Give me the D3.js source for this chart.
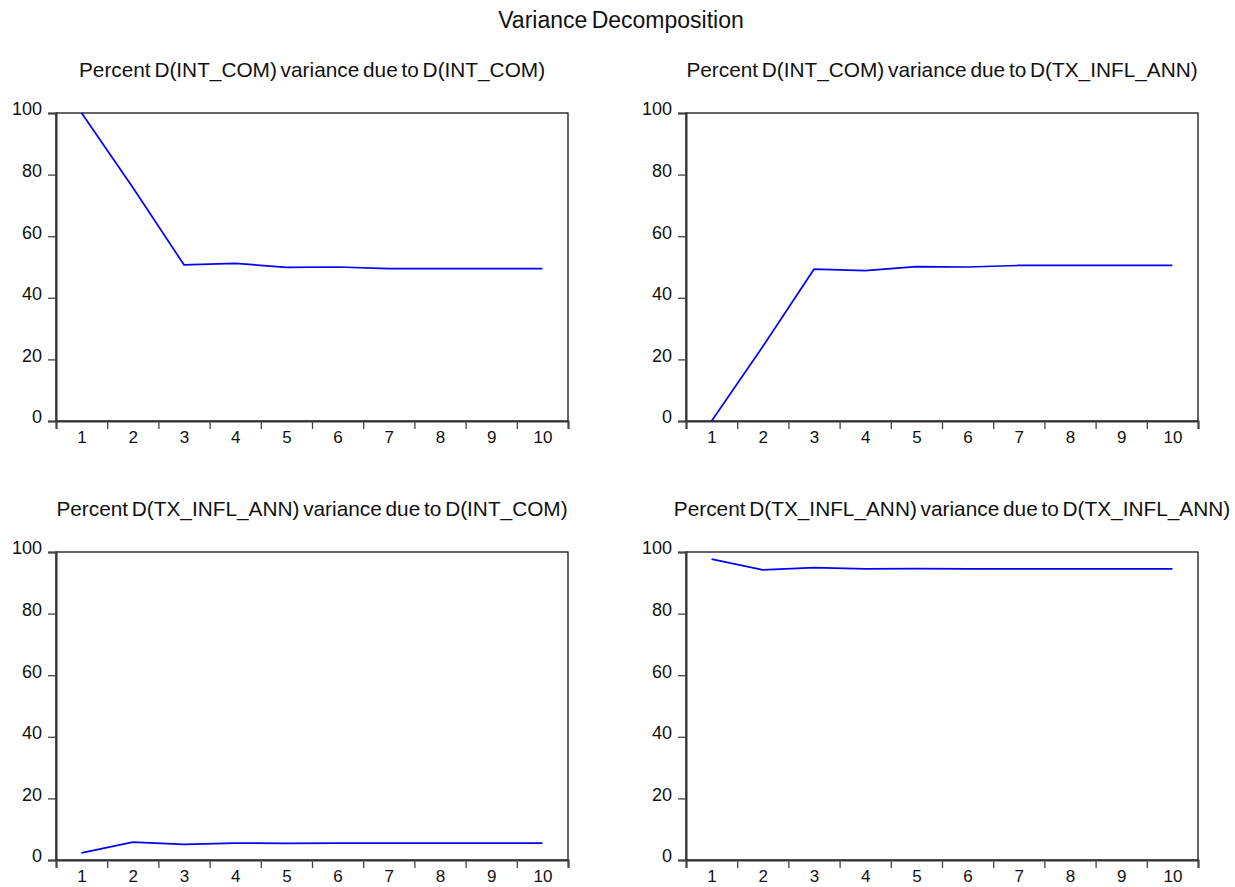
<!DOCTYPE html>
<html>
<head>
<meta charset="utf-8">
<script src="https://cdn.jsdelivr.net/npm/d3@7"></script>
<style>
  body { margin: 0; background: #fff; }
  svg text { font-family: "Liberation Sans", Arial, sans-serif; fill: #111; }
</style>
</head>
<body>
<svg id="chart" width="1235" height="887"></svg>
<script>
const periods = [1, 2, 3, 4, 5, 6, 7, 8, 9, 10];
const yTicks = [0, 20, 40, 60, 80, 100];
const intComByIntCom = [100, 75.8, 50.7, 51.2, 49.9, 50.0, 49.5, 49.5, 49.5, 49.5];
const intComByInfl   = [0, 24.2, 49.3, 48.8, 50.1, 50.0, 50.5, 50.5, 50.5, 50.5];
const inflByIntCom   = [2.3, 5.8, 5.1, 5.5, 5.4, 5.5, 5.5, 5.5, 5.5, 5.5];
const inflByInfl     = [97.7, 94.2, 94.9, 94.5, 94.6, 94.5, 94.5, 94.5, 94.5, 94.5];
const panelTitles = [
  'Percent D(INT_COM) variance due to D(INT_COM)',
  'Percent D(INT_COM) variance due to D(TX_INFL_ANN)',
  'Percent D(TX_INFL_ANN) variance due to D(INT_COM)',
  'Percent D(TX_INFL_ANN) variance due to D(TX_INFL_ANN)'
];
const mainTitle = 'Variance Decomposition';

const svg = d3.select('#chart');

// ---- Panel frames ----
const cols = [{x0: 56, x1: 568}, {x0: 686, x1: 1198}];
const rows = [{y0: 113, y1: 421}, {y0: 552, y1: 860}];
const panels = [
  {col: 0, row: 0, values: intComByIntCom, title: panelTitles[0]},
  {col: 1, row: 0, values: intComByInfl,   title: panelTitles[1]},
  {col: 0, row: 1, values: inflByIntCom,   title: panelTitles[2]},
  {col: 1, row: 1, values: inflByInfl,     title: panelTitles[3]}
];

svg.append('text')
  .attr('x', 621).attr('y', 28)
  .attr('text-anchor', 'middle')
  .style('font-size', '23px')
  .style('word-spacing', '-2px')
  .text(mainTitle);

panels.forEach(p => {
  const c = cols[p.col], r = rows[p.row];
  const x = d3.scaleLinear().domain([0.5, 10.5]).range([c.x0, c.x1]);
  const y = d3.scaleLinear().domain([0, 100]).range([r.y1, r.y0]);
  const g = svg.append('g');

  // subtitle
  g.append('text')
    .attr('x', (c.x0 + c.x1) / 2 + (p.col === 1 && p.row === 1 ? 10 : 0))
    .attr('y', r.y0 - 36)
    .attr('text-anchor', 'middle')
    .style('font-size', '20.8px')
    .style('word-spacing', '-2px')
    .text(p.title);

  // frame
  g.append('rect')
    .attr('x', c.x0).attr('y', r.y0)
    .attr('width', c.x1 - c.x0).attr('height', r.y1 - r.y0)
    .attr('fill', 'none').attr('stroke', '#000').attr('stroke-width', 1.2);

  // y axis
  const yAxis = g.append('g')
    .attr('transform', `translate(${c.x0},0)`)
    .call(d3.axisLeft(y).tickValues(yTicks).tickSize(8).tickPadding(6));
  yAxis.select('.domain').attr('stroke', '#333').attr('stroke-width', 2);
  yAxis.selectAll('.tick line').attr('stroke', '#444').attr('stroke-width', 1.3);
  yAxis.selectAll('.tick text')
    .attr('dy', '0.1em')
    .style('font-size', '18px')
    .style('font-family', '"Liberation Sans", Arial, sans-serif')
    .attr('fill', '#111');

  // x axis: ticks on period boundaries, labels in the middle
  const bounds = d3.range(0.5, 11, 1);
  const xTicks = g.append('g')
    .attr('transform', `translate(0,${r.y1})`)
    .call(d3.axisBottom(x).tickValues(bounds).tickSize(8).tickFormat(''));
  xTicks.select('.domain').attr('stroke', '#333').attr('stroke-width', 2);
  xTicks.selectAll('.tick line').attr('stroke', '#444').attr('stroke-width', 1.3);

  const xLabels = g.append('g')
    .attr('transform', `translate(0,${r.y1})`)
    .call(d3.axisBottom(x).tickValues(periods).tickSize(0).tickPadding(10).tickFormat(d3.format('d')));
  xLabels.select('.domain').remove();
  xLabels.selectAll('.tick text')
    .style('font-size', '17px')
    .style('font-family', '"Liberation Sans", Arial, sans-serif')
    .attr('fill', '#111');

  // series line
  const line = d3.line()
    .x((d, i) => x(periods[i]))
    .y(d => y(d));
  g.append('path')
    .datum(p.values)
    .attr('fill', 'none')
    .attr('stroke', '#0000ff')
    .attr('stroke-width', 1.7)
    .attr('d', line);
});
</script>
</body>
</html>
